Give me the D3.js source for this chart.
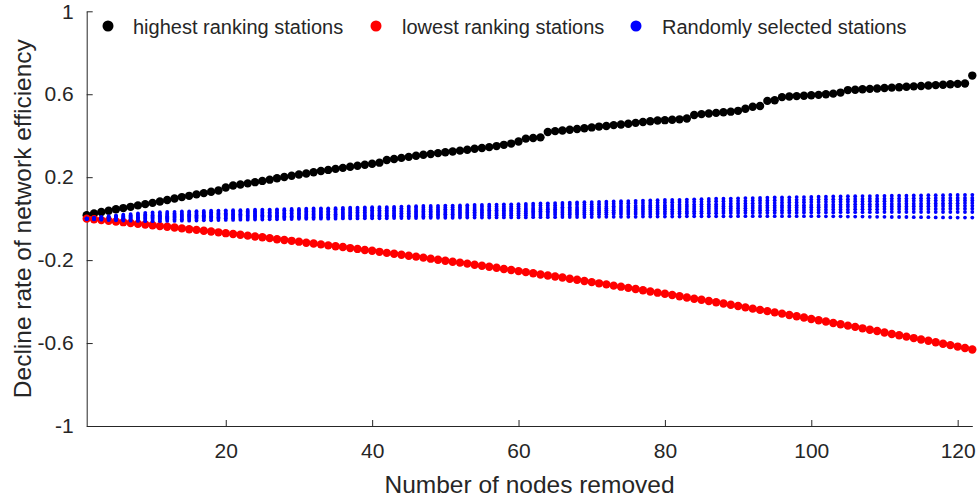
<!DOCTYPE html>
<html lang="en">
<head>
<meta charset="utf-8">
<title>Decline rate of network efficiency</title>
<script src="https://cdn.jsdelivr.net/npm/d3@7"></script>
<style>
  body { margin: 0; background: #fff; }
  #chart text { font-family: "Liberation Sans", Arial, sans-serif; fill: #262626; }
  .axis path, .axis line { stroke: #262626; stroke-width: 1; }
</style>
</head>
<body>
<div id="chart"></div>
<script>
  // x = number of nodes removed
  const nodesRemoved = [
    1,2,3,4,5,6,7,8,9,10,11,12,13,14,15,16,17,18,19,20,
    21,22,23,24,25,26,27,28,29,30,31,32,33,34,35,36,37,38,39,40,
    41,42,43,44,45,46,47,48,49,50,51,52,53,54,55,56,57,58,59,60,
    61,62,63,64,65,66,67,68,69,70,71,72,73,74,75,76,77,78,79,80,
    81,82,83,84,85,86,87,88,89,90,91,92,93,94,95,96,97,98,99,100,
    101,102,103,104,105,106,107,108,109,110,111,112,113,114,115,116,117,118,119,120,
    121,122
  ];

  const highestRanking = [
    0.017,0.025,0.032,0.038,0.045,0.051,0.057,0.064,0.070,0.076,
    0.083,0.090,0.097,0.104,0.110,0.117,0.123,0.130,0.136,0.150,
    0.160,0.165,0.170,0.176,0.182,0.188,0.195,0.201,0.207,0.213,
    0.218,0.224,0.230,0.235,0.240,0.245,0.250,0.255,0.260,0.265,
    0.270,0.283,0.288,0.293,0.298,0.303,0.308,0.312,0.316,0.320,
    0.324,0.328,0.332,0.337,0.341,0.345,0.350,0.356,0.362,0.372,
    0.386,0.389,0.392,0.418,0.422,0.425,0.429,0.432,0.436,0.440,
    0.444,0.447,0.451,0.454,0.458,0.462,0.466,0.470,0.473,0.475,
    0.477,0.479,0.483,0.500,0.504,0.507,0.510,0.513,0.516,0.520,
    0.530,0.540,0.543,0.568,0.571,0.586,0.589,0.591,0.593,0.595,
    0.597,0.600,0.603,0.608,0.620,0.622,0.624,0.626,0.628,0.630,
    0.632,0.634,0.636,0.638,0.640,0.642,0.644,0.646,0.648,0.650,
    0.652,0.690
  ];

  const lowestRanking = [
    0,-0.003,-0.007,-0.010,-0.014,-0.017,-0.021,-0.025,-0.028,-0.032,
    -0.036,-0.039,-0.043,-0.047,-0.051,-0.054,-0.058,-0.062,-0.066,-0.070,
    -0.074,-0.078,-0.082,-0.086,-0.090,-0.094,-0.099,-0.103,-0.107,-0.111,
    -0.116,-0.120,-0.124,-0.129,-0.133,-0.137,-0.142,-0.146,-0.151,-0.155,
    -0.160,-0.165,-0.169,-0.174,-0.179,-0.183,-0.188,-0.193,-0.198,-0.203,
    -0.208,-0.212,-0.217,-0.222,-0.227,-0.232,-0.237,-0.243,-0.248,-0.253,
    -0.258,-0.263,-0.269,-0.274,-0.279,-0.284,-0.290,-0.295,-0.301,-0.306,
    -0.312,-0.317,-0.323,-0.328,-0.334,-0.339,-0.345,-0.351,-0.357,-0.362,
    -0.368,-0.374,-0.380,-0.386,-0.391,-0.397,-0.403,-0.409,-0.415,-0.421,
    -0.428,-0.434,-0.440,-0.446,-0.452,-0.458,-0.465,-0.471,-0.477,-0.484,
    -0.490,-0.496,-0.503,-0.509,-0.516,-0.522,-0.529,-0.536,-0.542,-0.549,
    -0.556,-0.562,-0.569,-0.576,-0.583,-0.589,-0.596,-0.603,-0.610,-0.617,
    -0.624,-0.631
  ];

  // randomly selected stations, one array per run
  const randomRun1 = [
    0,0.004,0.008,0.012,0.016,0.019,0.022,0.025,0.028,0.030,
    0.031,0.032,0.033,0.035,0.035,0.036,0.037,0.038,0.039,0.040,
    0.041,0.041,0.042,0.043,0.044,0.044,0.045,0.046,0.047,0.047,
    0.048,0.049,0.050,0.050,0.051,0.052,0.053,0.053,0.054,0.055,
    0.056,0.056,0.057,0.058,0.059,0.060,0.061,0.061,0.062,0.063,
    0.063,0.064,0.065,0.066,0.066,0.067,0.068,0.069,0.069,0.070,
    0.071,0.072,0.073,0.074,0.075,0.076,0.077,0.078,0.079,0.080,
    0.081,0.082,0.083,0.084,0.085,0.086,0.087,0.088,0.089,0.090,
    0.091,0.091,0.092,0.093,0.094,0.095,0.096,0.096,0.097,0.098,
    0.099,0.099,0.100,0.101,0.102,0.102,0.103,0.104,0.104,0.105,
    0.106,0.106,0.107,0.107,0.108,0.108,0.109,0.109,0.110,0.110,
    0.111,0.111,0.111,0.112,0.112,0.113,0.113,0.113,0.114,0.114,
    0.115,0.115
  ];
  const randomRun2 = [
    0,0.003,0.006,0.009,0.012,0.014,0.016,0.018,0.020,0.022,
    0.023,0.024,0.025,0.027,0.028,0.029,0.030,0.031,0.032,0.033,
    0.034,0.035,0.035,0.036,0.037,0.038,0.039,0.040,0.040,0.041,
    0.042,0.042,0.043,0.044,0.045,0.045,0.046,0.047,0.047,0.048,
    0.049,0.049,0.050,0.050,0.051,0.052,0.052,0.053,0.053,0.054,
    0.055,0.055,0.056,0.056,0.057,0.058,0.058,0.059,0.059,0.060,
    0.061,0.062,0.063,0.064,0.065,0.066,0.067,0.068,0.068,0.069,
    0.070,0.071,0.072,0.073,0.074,0.075,0.076,0.076,0.077,0.078,
    0.079,0.080,0.080,0.081,0.082,0.083,0.084,0.084,0.085,0.086,
    0.086,0.087,0.088,0.088,0.089,0.090,0.090,0.091,0.091,0.092,
    0.092,0.093,0.093,0.094,0.094,0.095,0.095,0.096,0.096,0.096,
    0.097,0.097,0.097,0.098,0.098,0.098,0.099,0.099,0.099,0.100,
    0.100,0.100
  ];
  const randomRun3 = [
    0,0.002,0.004,0.006,0.008,0.010,0.012,0.013,0.015,0.016,
    0.017,0.018,0.019,0.020,0.021,0.022,0.023,0.024,0.025,0.026,
    0.027,0.027,0.028,0.029,0.030,0.031,0.031,0.032,0.033,0.033,
    0.034,0.035,0.035,0.036,0.037,0.037,0.038,0.039,0.039,0.040,
    0.040,0.041,0.041,0.042,0.042,0.043,0.043,0.044,0.044,0.045,
    0.045,0.046,0.046,0.047,0.047,0.048,0.048,0.049,0.049,0.050,
    0.051,0.051,0.052,0.053,0.054,0.055,0.055,0.056,0.057,0.058,
    0.058,0.059,0.060,0.061,0.061,0.062,0.063,0.064,0.064,0.065,
    0.066,0.067,0.067,0.068,0.069,0.070,0.070,0.071,0.072,0.073,
    0.073,0.074,0.075,0.076,0.076,0.077,0.078,0.078,0.079,0.080,
    0.080,0.081,0.081,0.082,0.082,0.083,0.083,0.084,0.084,0.084,
    0.085,0.085,0.085,0.086,0.086,0.086,0.087,0.087,0.087,0.088,
    0.088,0.088
  ];
  const randomRun4 = [
    0,0.001,0.002,0.003,0.004,0.005,0.006,0.007,0.009,0.010,
    0.011,0.012,0.013,0.014,0.015,0.016,0.017,0.018,0.019,0.020,
    0.021,0.021,0.022,0.023,0.023,0.024,0.025,0.025,0.026,0.026,
    0.027,0.027,0.028,0.028,0.029,0.029,0.030,0.031,0.031,0.032,
    0.032,0.033,0.033,0.034,0.034,0.035,0.035,0.036,0.036,0.037,
    0.037,0.038,0.038,0.039,0.039,0.040,0.040,0.041,0.041,0.042,
    0.043,0.043,0.044,0.045,0.045,0.046,0.047,0.047,0.048,0.049,
    0.049,0.050,0.051,0.051,0.052,0.052,0.053,0.054,0.054,0.055,
    0.056,0.056,0.057,0.057,0.058,0.059,0.059,0.060,0.060,0.061,
    0.061,0.062,0.062,0.063,0.063,0.064,0.064,0.065,0.065,0.066,
    0.066,0.067,0.067,0.068,0.068,0.069,0.069,0.070,0.070,0.071,
    0.071,0.071,0.072,0.072,0.072,0.073,0.073,0.073,0.074,0.074,
    0.075,0.075
  ];
  const randomRun5 = [
    0,0.000,0.001,0.001,0.002,0.002,0.003,0.003,0.004,0.005,
    0.006,0.007,0.008,0.009,0.010,0.010,0.011,0.012,0.013,0.014,
    0.014,0.015,0.015,0.016,0.016,0.017,0.017,0.018,0.018,0.019,
    0.019,0.020,0.020,0.021,0.021,0.022,0.022,0.023,0.023,0.024,
    0.024,0.025,0.025,0.026,0.026,0.027,0.027,0.028,0.028,0.029,
    0.029,0.030,0.030,0.031,0.031,0.032,0.032,0.033,0.033,0.034,
    0.035,0.035,0.036,0.036,0.037,0.037,0.038,0.039,0.039,0.040,
    0.040,0.041,0.041,0.042,0.042,0.043,0.043,0.044,0.044,0.045,
    0.045,0.046,0.046,0.047,0.047,0.048,0.048,0.049,0.049,0.050,
    0.050,0.051,0.051,0.052,0.052,0.053,0.053,0.054,0.054,0.055,
    0.055,0.056,0.056,0.056,0.057,0.057,0.057,0.058,0.058,0.058,
    0.059,0.059,0.059,0.060,0.060,0.060,0.061,0.061,0.061,0.062,
    0.062,0.062
  ];
  const randomRun6 = [
    0,-0.001,-0.002,-0.002,-0.002,-0.002,-0.001,-0.001,0.000,0.000,
    0.001,0.002,0.003,0.003,0.004,0.005,0.006,0.006,0.007,0.008,
    0.008,0.009,0.009,0.010,0.010,0.011,0.011,0.012,0.012,0.012,
    0.013,0.013,0.013,0.014,0.014,0.014,0.015,0.015,0.015,0.016,
    0.016,0.017,0.017,0.018,0.018,0.019,0.019,0.020,0.020,0.021,
    0.021,0.022,0.022,0.023,0.023,0.024,0.024,0.025,0.025,0.026,
    0.026,0.027,0.027,0.028,0.028,0.029,0.029,0.030,0.030,0.030,
    0.031,0.031,0.031,0.032,0.032,0.032,0.033,0.033,0.033,0.034,
    0.034,0.035,0.035,0.036,0.036,0.037,0.037,0.037,0.038,0.038,
    0.039,0.039,0.040,0.040,0.041,0.041,0.041,0.042,0.042,0.043,
    0.043,0.043,0.044,0.044,0.044,0.045,0.045,0.045,0.045,0.046,
    0.046,0.046,0.046,0.047,0.047,0.047,0.047,0.047,0.048,0.048,
    0.048,0.048
  ];
  const randomRun7 = [
    0,-0.002,-0.003,-0.004,-0.005,-0.005,-0.006,-0.006,-0.006,-0.006,
    -0.005,-0.004,-0.004,-0.003,-0.002,-0.001,0.000,0.000,0.001,0.002,
    0.002,0.003,0.003,0.004,0.004,0.005,0.005,0.005,0.006,0.006,
    0.006,0.007,0.007,0.007,0.008,0.008,0.008,0.009,0.009,0.010,
    0.010,0.010,0.011,0.011,0.011,0.012,0.012,0.012,0.013,0.013,
    0.013,0.014,0.014,0.015,0.015,0.015,0.016,0.016,0.016,0.017,
    0.017,0.018,0.018,0.018,0.019,0.019,0.020,0.020,0.020,0.021,
    0.021,0.021,0.022,0.022,0.022,0.023,0.023,0.023,0.024,0.024,
    0.024,0.025,0.025,0.025,0.026,0.026,0.026,0.027,0.027,0.027,
    0.028,0.028,0.028,0.028,0.029,0.029,0.029,0.029,0.030,0.030,
    0.030,0.030,0.030,0.031,0.031,0.031,0.031,0.031,0.031,0.032,
    0.032,0.032,0.032,0.032,0.032,0.032,0.032,0.032,0.032,0.032,
    0.032,0.032
  ];
  const randomRun8 = [
    0,-0.003,-0.005,-0.007,-0.008,-0.009,-0.010,-0.011,-0.012,-0.012,
    -0.012,-0.011,-0.011,-0.010,-0.010,-0.009,-0.008,-0.008,-0.007,-0.006,
    -0.006,-0.005,-0.005,-0.004,-0.004,-0.003,-0.003,-0.002,-0.002,-0.001,
    -0.001,-0.001,0.000,0.000,0.000,0.001,0.001,0.001,0.002,0.002,
    0.002,0.002,0.003,0.003,0.003,0.003,0.004,0.004,0.004,0.004,
    0.004,0.005,0.005,0.005,0.005,0.005,0.006,0.006,0.006,0.006,
    0.006,0.007,0.007,0.007,0.007,0.008,0.008,0.008,0.008,0.008,
    0.009,0.009,0.009,0.009,0.009,0.009,0.010,0.010,0.010,0.010,
    0.010,0.010,0.011,0.011,0.011,0.011,0.011,0.011,0.011,0.012,
    0.012,0.012,0.012,0.012,0.012,0.012,0.012,0.012,0.012,0.012,
    0.012,0.011,0.011,0.011,0.010,0.010,0.010,0.009,0.009,0.009,
    0.008,0.008,0.008,0.007,0.007,0.007,0.006,0.006,0.006,0.005,
    0.005,0.005
  ];
  const randomRuns = [randomRun1, randomRun2, randomRun3, randomRun4,
                      randomRun5, randomRun6, randomRun7, randomRun8];

  const xTicks = [20, 40, 60, 80, 100, 120];
  const yTicks = [-1, -0.6, -0.2, 0.2, 0.6, 1];
  const yTickLabels = ["-1", "-0.6", "-0.2", "0.2", "0.6", "1"];
  const legendNames = ["highest ranking stations", "lowest ranking stations", "Randomly selected stations"];

  var width = 978, height = 500;
  var margin = {left: 86.7, right: 5.7, top: 11.3, bottom: 74};

  var svg = d3.select("#chart")
    .append("svg")
    .attr("width", width)
    .attr("height", height);

  var x = d3.scaleLinear()
    .domain([1, 122])
    .range([margin.left, width - margin.right]);

  var y = d3.scaleLinear()
    .domain([-1, 1])
    .range([height - margin.bottom, margin.top]);

  // axes, MATLAB style: ticks point inwards, no box
  svg.append("g")
    .attr("class", "axis")
    .attr("transform", "translate(0," + (height - margin.bottom) + ")")
    .call(d3.axisBottom(x).tickValues(xTicks).tickSizeInner(-6).tickSizeOuter(0).tickPadding(17))
    .call(g => g.selectAll("text").style("font-size", "21px"));

  svg.append("g")
    .attr("class", "axis")
    .attr("transform", "translate(" + margin.left + ",0)")
    .call(d3.axisLeft(y).tickValues(yTicks).tickSizeInner(-6).tickSizeOuter(0).tickPadding(13)
      .tickFormat((d, i) => yTickLabels[i]))
    .call(g => g.selectAll("text").style("font-size", "21px"));

  svg.selectAll(".axis text").attr("fill", "#262626");

  // axis titles
  svg.append("text")
    .attr("x", (x.range()[0] + x.range()[1]) / 2)
    .attr("y", 493)
    .attr("text-anchor", "middle")
    .style("font-size", "24.5px")
    .text("Number of nodes removed");

  svg.append("text")
    .attr("transform", "translate(31," + (y.range()[0] + y.range()[1]) / 2 + ") rotate(-90)")
    .attr("text-anchor", "middle")
    .style("font-size", "24.5px")
    .text("Decline rate of network efficiency");

  // highest ranking stations
  svg.append("g")
    .selectAll("circle")
    .data(highestRanking)
    .enter()
    .append("circle")
      .attr("cx", (d, i) => x(nodesRemoved[i]))
      .attr("cy", d => y(d))
      .attr("r", 4.2)
      .attr("fill", "#000");

  // lowest ranking stations
  svg.append("g")
    .selectAll("circle")
    .data(lowestRanking)
    .enter()
    .append("circle")
      .attr("cx", (d, i) => x(nodesRemoved[i]))
      .attr("cy", d => y(d))
      .attr("r", 4.2)
      .attr("fill", "#ff0000");

  // random runs, small dots
  randomRuns.forEach(function (run) {
    svg.append("g")
      .selectAll("circle")
      .data(run)
      .enter()
      .append("circle")
        .attr("cx", (d, i) => x(nodesRemoved[i]))
        .attr("cy", d => y(d))
        .attr("r", 1.9)
        .attr("fill", "#0000ff");
  });

  // legend
  var legendItems = [
    {name: legendNames[0], color: "#000", mx: 108, tx: 133},
    {name: legendNames[1], color: "#ff0000", mx: 376, tx: 402},
    {name: legendNames[2], color: "#0000ff", mx: 636, tx: 662}
  ];
  var legend = svg.append("g").attr("id", "legend");
  legend.selectAll("circle")
    .data(legendItems)
    .enter()
    .append("circle")
      .attr("cx", d => d.mx)
      .attr("cy", 26)
      .attr("r", 5.5)
      .attr("fill", d => d.color);
  legend.selectAll("text")
    .data(legendItems)
    .enter()
    .append("text")
      .attr("x", d => d.tx)
      .attr("y", 34)
      .style("font-size", "20px")
      .text(d => d.name);
</script>
</body>
</html>
